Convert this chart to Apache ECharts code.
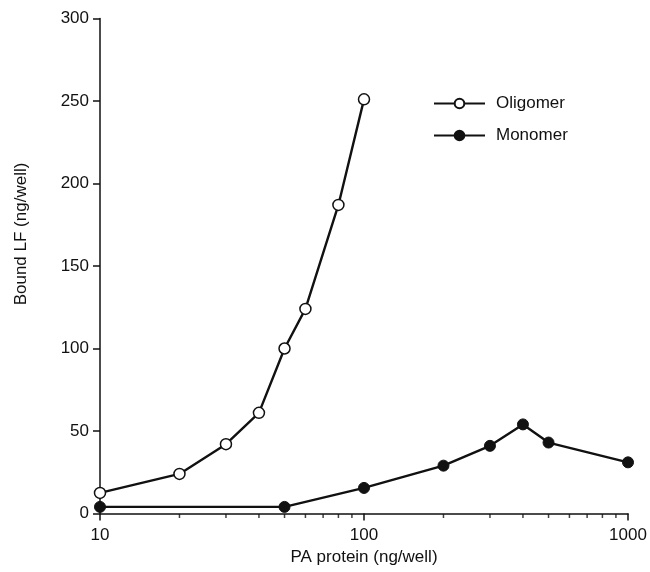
<!DOCTYPE html>
<html>
<head>
<meta charset="utf-8">
<script src="https://cdn.jsdelivr.net/npm/echarts@6/dist/echarts.min.js"></script>
<style>
  html, body { margin: 0; padding: 0; background: #fff; }
  #chart { width: 650px; height: 572px; }
</style>
</head>
<body>
<div id="chart"></div>
<script>
// 数据
const oligomerX = [10, 20, 30, 40, 50, 60, 80, 100]
const oligomerY = [12.5, 24, 42, 61, 100, 124, 187, 251]
const monomerX = [10, 50, 100, 200, 300, 400, 500, 1000]
const monomerY = [4, 4, 15.5, 29, 41, 54, 43, 31]
const minorTickX = [20, 30, 40, 50, 60, 70, 80, 90, 200, 300, 400, 500, 600, 700, 800, 900]

const font = 'Liberation Sans, Arial, sans-serif'
const ink = '#111'

const chart = echarts.init(document.getElementById('chart'))

const zip = (xs, ys) => xs.map((x, i) => [x, ys[i]])

const option = {
  animation: false,
  backgroundColor: '#fff',
  grid: { left: 100, right: 22, top: 18.5, bottom: 58.5 },
  legend: {
    orient: 'vertical',
    left: 428,
    top: 90,
    itemWidth: 51,
    itemHeight: 12,
    itemGap: 15,
    textStyle: { fontFamily: font, fontSize: 17, color: ink, padding: [0, 0, 0, 6] },
    data: ['Oligomer', 'Monomer']
  },
  xAxis: {
    type: 'log',
    logBase: 10,
    min: 10,
    max: 1000,
    name: 'PA protein (ng/well)',
    nameLocation: 'middle',
    nameGap: 33,
    nameTextStyle: { fontFamily: font, fontSize: 17, color: ink },
    axisLine: { lineStyle: { color: ink, width: 1.5 } },
    axisTick: { show: true, length: 7, inside: false, lineStyle: { color: ink, width: 1.5 } },
    axisLabel: { fontFamily: font, fontSize: 17, color: ink, margin: 13, formatter: v => String(v) },
    splitLine: { show: false }
  },
  yAxis: {
    type: 'value',
    min: 0,
    max: 300,
    interval: 50,
    name: 'Bound LF (ng/well)',
    nameLocation: 'middle',
    nameGap: 70,
    // 标题略偏上
    nameTextStyle: { fontFamily: font, fontSize: 17, color: ink, padding: [0, 0, 0, 64] },
    axisLine: { show: true, lineStyle: { color: ink, width: 1.5 } },
    axisTick: { show: true, length: 7, lineStyle: { color: ink, width: 1.5 } },
    axisLabel: { fontFamily: font, fontSize: 17, color: ink, margin: 11 },
    splitLine: { show: false }
  },
  series: [
    {
      name: 'Oligomer',
      type: 'line',
      data: zip(oligomerX, oligomerY),
      symbol: 'circle',
      symbolSize: 11,
      lineStyle: { color: ink, width: 2.4 },
      itemStyle: { color: '#fff', borderColor: ink, borderWidth: 1.5 },
      z: 3
    },
    {
      name: 'Monomer',
      type: 'line',
      data: zip(monomerX, monomerY),
      symbol: 'circle',
      symbolSize: 11,
      lineStyle: { color: ink, width: 2.4 },
      itemStyle: { color: ink, borderColor: ink, borderWidth: 1 },
      z: 3
    },
    {
      // 对数轴的次刻度
      name: 'minor',
      type: 'scatter',
      data: minorTickX.map(x => [x, 0]),
      symbol: 'rect',
      symbolSize: [1.5, 4],
      symbolOffset: [0, 2.5],
      itemStyle: { color: ink },
      clip: false,
      silent: true,
      z: 1
    }
  ]
}

chart.setOption(option)
</script>
</body>
</html>
